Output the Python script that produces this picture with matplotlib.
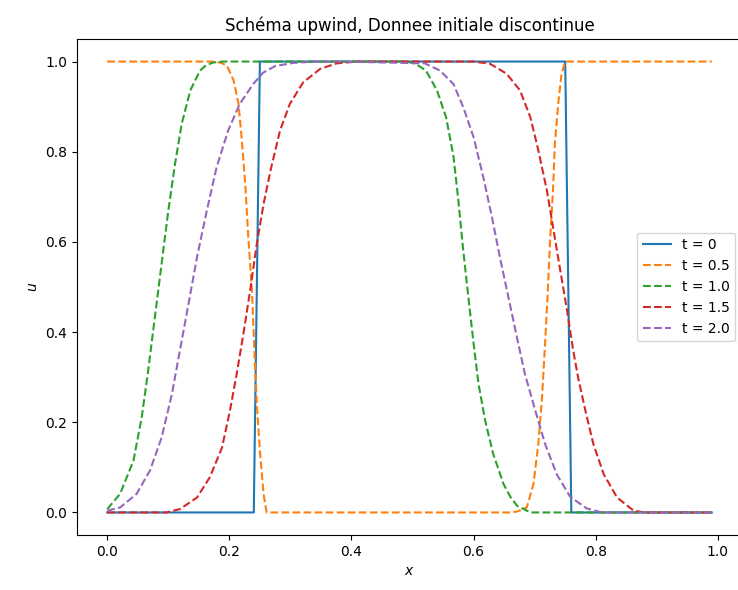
import matplotlib
matplotlib.use("Agg")
import matplotlib.pyplot as plt

# t = 0 (initial step)
x_t0 = [0.0, 0.24, 0.25, 0.75, 0.76, 0.99]
u_t0 = [0.0, 0.0, 1.0, 1.0, 0.0, 0.0]

# t = 0.5
x_t05 = [0.0, 0.17, 0.185, 0.196, 0.207, 0.215, 0.22, 0.226, 0.231, 0.237, 0.241,
         0.245, 0.25, 0.256, 0.261, 0.27, 0.66, 0.671, 0.687, 0.698, 0.706, 0.712,
         0.717, 0.721, 0.725, 0.73, 0.733, 0.739, 0.744, 0.75, 0.99]
u_t05 = [1.0, 1.0, 0.998, 0.991, 0.958, 0.906, 0.832, 0.729, 0.61, 0.492, 0.359,
         0.24, 0.137, 0.041, 0.0, 0.0, 0.0, 0.002, 0.011, 0.063, 0.152, 0.255,
         0.374, 0.477, 0.596, 0.714, 0.817, 0.913, 0.973, 1.0, 1.0]

# t = 1.0
x_t10 = [0.0, 0.021, 0.043, 0.0565, 0.067, 0.078, 0.089, 0.1, 0.111, 0.122, 0.136,
         0.152, 0.162, 0.174, 0.19, 0.49, 0.505, 0.522, 0.54, 0.555, 0.567, 0.575,
         0.583, 0.592, 0.6, 0.608, 0.619, 0.632, 0.649, 0.66, 0.671, 0.693, 0.99]
u_t10 = [0.0075, 0.041, 0.115, 0.211, 0.314, 0.433, 0.551, 0.669, 0.773, 0.862, 0.936,
         0.98, 0.992, 0.998, 1.0, 1.0, 0.995, 0.98, 0.936, 0.876, 0.79, 0.692,
         0.581, 0.47, 0.374, 0.285, 0.203, 0.13, 0.063, 0.035, 0.015, 0.0, 0.0]

# t = 1.5
x_t15 = [0.0, 0.097, 0.119, 0.147, 0.168, 0.188, 0.201, 0.212, 0.223, 0.234, 0.245,
         0.256, 0.268, 0.283, 0.299, 0.321, 0.349, 0.376, 0.41, 0.6, 0.627, 0.654,
         0.676, 0.693, 0.706, 0.72, 0.731, 0.742, 0.753, 0.763, 0.771, 0.783, 0.796,
         0.813, 0.835, 0.862, 0.88, 0.99]
u_t15 = [0.0, 0.0, 0.0075, 0.033, 0.078, 0.144, 0.226, 0.307, 0.396, 0.492, 0.596,
         0.684, 0.762, 0.847, 0.906, 0.954, 0.984, 0.996, 1.0, 1.0, 0.995, 0.973,
         0.936, 0.876, 0.803, 0.714, 0.625, 0.536, 0.448, 0.36, 0.3, 0.226, 0.152,
         0.085, 0.033, 0.004, 0.0, 0.0]

# t = 2.0
x_t20 = [0.0, 0.021, 0.048, 0.07, 0.089, 0.106, 0.119, 0.133, 0.147, 0.163, 0.179,
         0.198, 0.217, 0.239, 0.255, 0.275, 0.305, 0.34, 0.38, 0.52, 0.545, 0.567,
         0.583, 0.6, 0.616, 0.63, 0.643, 0.657, 0.671, 0.684, 0.701, 0.717, 0.736,
         0.758, 0.785, 0.81, 0.99]
u_t20 = [0.004, 0.011, 0.041, 0.093, 0.166, 0.263, 0.359, 0.462, 0.566, 0.669, 0.765,
         0.847, 0.906, 0.95, 0.975, 0.99, 0.997, 1.0, 1.0, 0.996, 0.98, 0.95,
         0.899, 0.832, 0.743, 0.655, 0.566, 0.477, 0.388, 0.307, 0.226, 0.152, 0.085,
         0.035, 0.009, 0.0, 0.0]

labels = ["t = 0", "t = 0.5", "t = 1.0", "t = 1.5", "t = 2.0"]

fig = plt.figure(figsize=(7.38, 5.9), dpi=100)
ax = fig.add_axes([77 / 738, 55 / 590, 665 / 738, 496 / 590])

ax.plot(x_t0, u_t0, "-", label=labels[0])
ax.plot(x_t05, u_t05, "--", label=labels[1])
ax.plot(x_t10, u_t10, "--", label=labels[2])
ax.plot(x_t15, u_t15, "--", label=labels[3])
ax.plot(x_t20, u_t20, "--", label=labels[4])

ax.spines["right"].set_visible(False)

ax.set_title("Schéma upwind, Donnee initiale discontinue")
ax.set_xlabel("$x$")
ax.set_ylabel("$u$")
ax.legend(loc="center right")

fig.savefig("out.png", dpi=100)
